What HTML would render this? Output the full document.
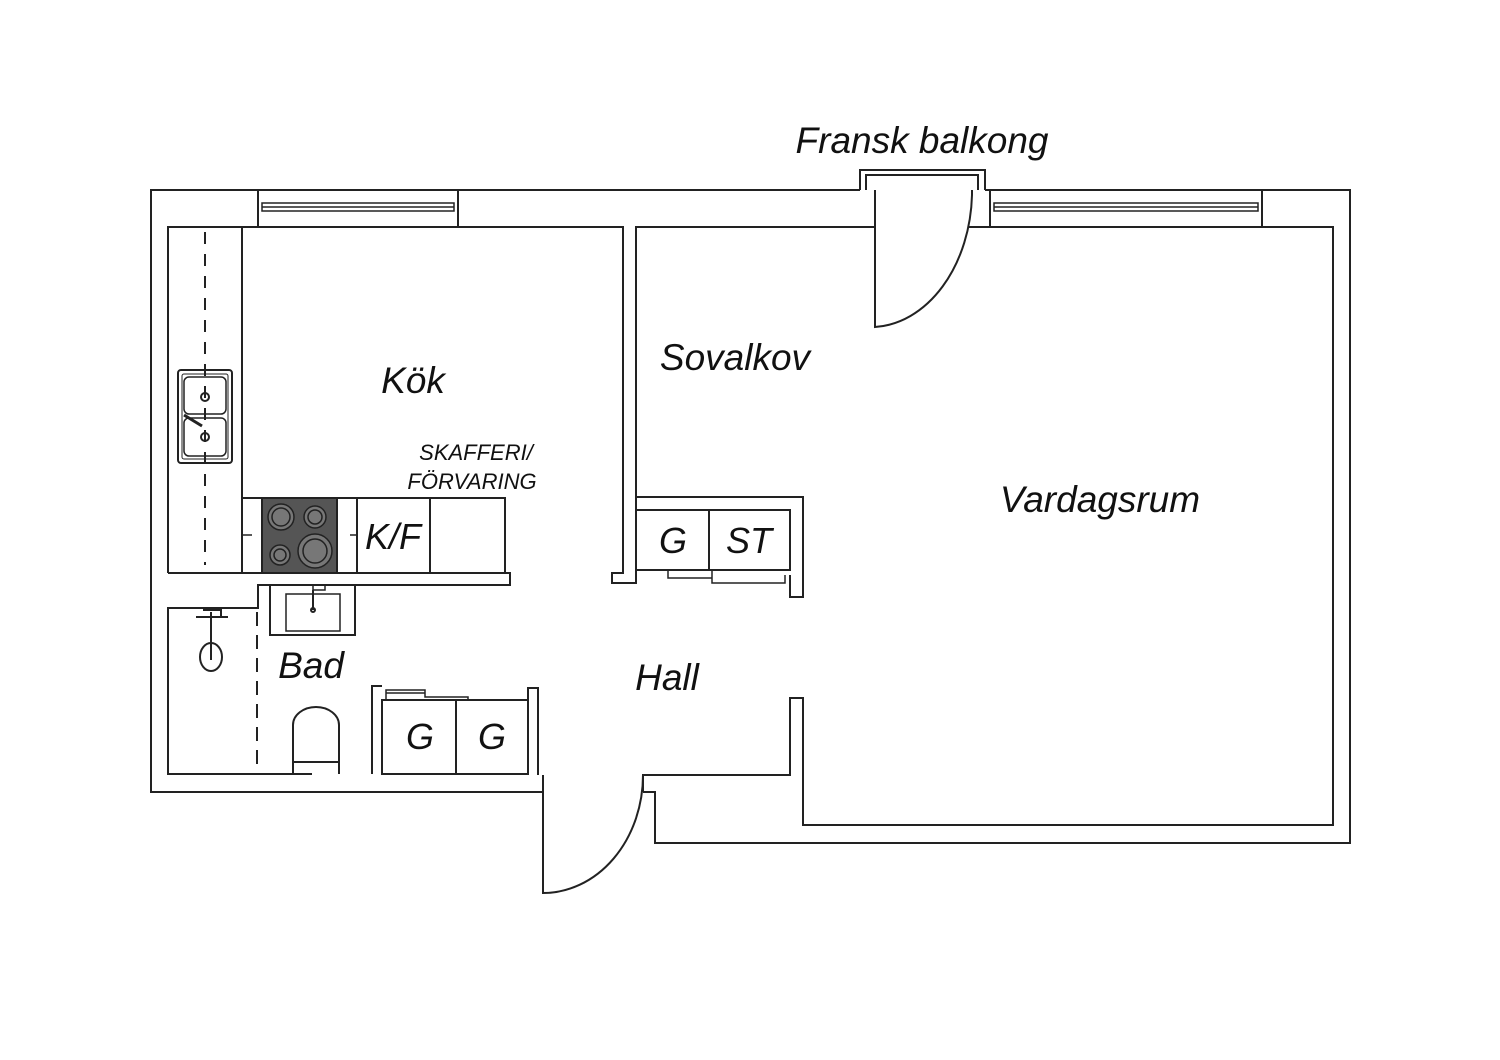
<!DOCTYPE html>
<html><head><meta charset="utf-8"><style>
html,body{margin:0;padding:0;background:#fff;}
svg{display:block}
text{font-family:"Liberation Sans",sans-serif;font-style:italic;fill:#111;text-anchor:middle}
</style></head><body>
<svg width="1500" height="1060" viewBox="0 0 1500 1060" xmlns="http://www.w3.org/2000/svg">
<g fill="none" stroke="#222" stroke-width="2">
<!-- outer walls -->
<path d="M860,190 H151 V792 H543"/>
<path d="M985,190 H1350 V843 H655 V792 H643"/>
<!-- inner walls kitchen -->
<path d="M168,573 V227 H623 V573 H612 V583 H636 V227 H875"/>
<path d="M636,497 H803 V597 H790 V575"/>
<path d="M968,227 H1333 V825 H803 V698 H790 V775 H643 V792"/>
<!-- windows -->
<rect x="258" y="190" width="200" height="37"/>
<path d="M262,203 H454 V211 H262 Z M262,207 H454" stroke-width="1.5"/>
<rect x="990" y="190" width="272" height="37"/>
<path d="M994,203 H1258 V211 H994 Z M994,207 H1258" stroke-width="1.5"/>
<!-- balcony -->
<path d="M860,190 V170 H985 V190 M866,190 V175 H978 V190"/>
<path d="M875,190 V327 A102,137 0 0 0 972,195 V190"/>
<!-- entry door -->
<path d="M543,775 V893 A100,118 0 0 0 643,775"/>
<!-- kitchen left counter -->
<path d="M242,227 V573"/>
<path d="M205,232 V565" stroke-dasharray="12,10"/>
<rect x="178" y="370" width="54" height="93" rx="3"/>
<rect x="182" y="374" width="46" height="85" rx="2" stroke-width="1"/>
<rect x="184" y="377" width="42" height="37" rx="5" stroke-width="1.5"/>
<rect x="184" y="418" width="42" height="38" rx="5" stroke-width="1.5"/>
<circle cx="205" cy="397" r="4"/><circle cx="205" cy="437" r="4"/>
<path d="M184,415 L202,426" stroke-width="3"/>
<!-- bottom counter -->
<path d="M168,573 H510 V585 H258 V608 H168 V774 H312"/>
<path d="M242,498 H505 V573 M357,498 V573 M430,498 V573"/>
<path d="M243,535 H252 M350,535 H356" stroke-width="1.5"/>
<rect x="262" y="498" width="75" height="75" fill="#555"/>
<g stroke="#222" stroke-width="1.5">
<circle cx="281" cy="517" r="13" fill="#777"/><circle cx="281" cy="517" r="9" fill="#777"/>
<circle cx="315" cy="517" r="11" fill="#777"/><circle cx="315" cy="517" r="7" fill="#777"/>
<circle cx="280" cy="555" r="10" fill="#777"/><circle cx="280" cy="555" r="6" fill="#777"/>
<circle cx="315" cy="551" r="17" fill="#777"/><circle cx="315" cy="551" r="12" fill="#777"/>
</g>
<path d="M313,585 V590 H325 V585" stroke-width="1.5"/>
<!-- bathroom -->
<path d="M257,612 V772" stroke-dasharray="14,9"/>
<rect x="270" y="585" width="85" height="50"/>
<rect x="286" y="594" width="54" height="37" stroke-width="1.5"/>
<path d="M313,590 V610" stroke-width="2"/><circle cx="313" cy="610" r="2"/>
<path d="M196,617 H228 M203,610 H221 V617 M211,612 V660" stroke-width="2"/>
<ellipse cx="211" cy="657" rx="11" ry="14"/>
<path d="M293,774 V725 A23,18 0 0 1 339,725 V774 M293,762 H339"/>
<!-- bath closets -->
<path d="M372,774 V686 H382 M382,700 H528 V774 H382 Z M456,700 V774 M528,700 V688 H538 V775"/>
<path d="M386,700 V690 H425 V697 H468 V700 M386,693 H425" stroke-width="1.5"/>
<!-- sovalkov closets -->
<rect x="636" y="510" width="154" height="60"/>
<path d="M709,510 V570"/>
<path d="M668,570 V578 H712 M712,570 V583 H785 V575" stroke-width="1.5"/>
</g>
<text x="922" y="153" font-size="37">Fransk balkong</text>
<text x="413" y="393" font-size="37">Kök</text>
<text x="735" y="370" font-size="37">Sovalkov</text>
<text x="1100" y="512" font-size="37">Vardagsrum</text>
<text x="667" y="690" font-size="37">Hall</text>
<text x="311" y="678" font-size="37">Bad</text>
<text x="476" y="460" font-size="22">SKAFFERI/</text>
<text x="472" y="489" font-size="22">FÖRVARING</text>
<text x="393" y="549" font-size="36">K/F</text>
<text x="673" y="553" font-size="36">G</text>
<text x="749" y="553" font-size="36">ST</text>
<text x="420" y="749" font-size="36">G</text>
<text x="492" y="749" font-size="36">G</text>
</svg>
</body></html>
